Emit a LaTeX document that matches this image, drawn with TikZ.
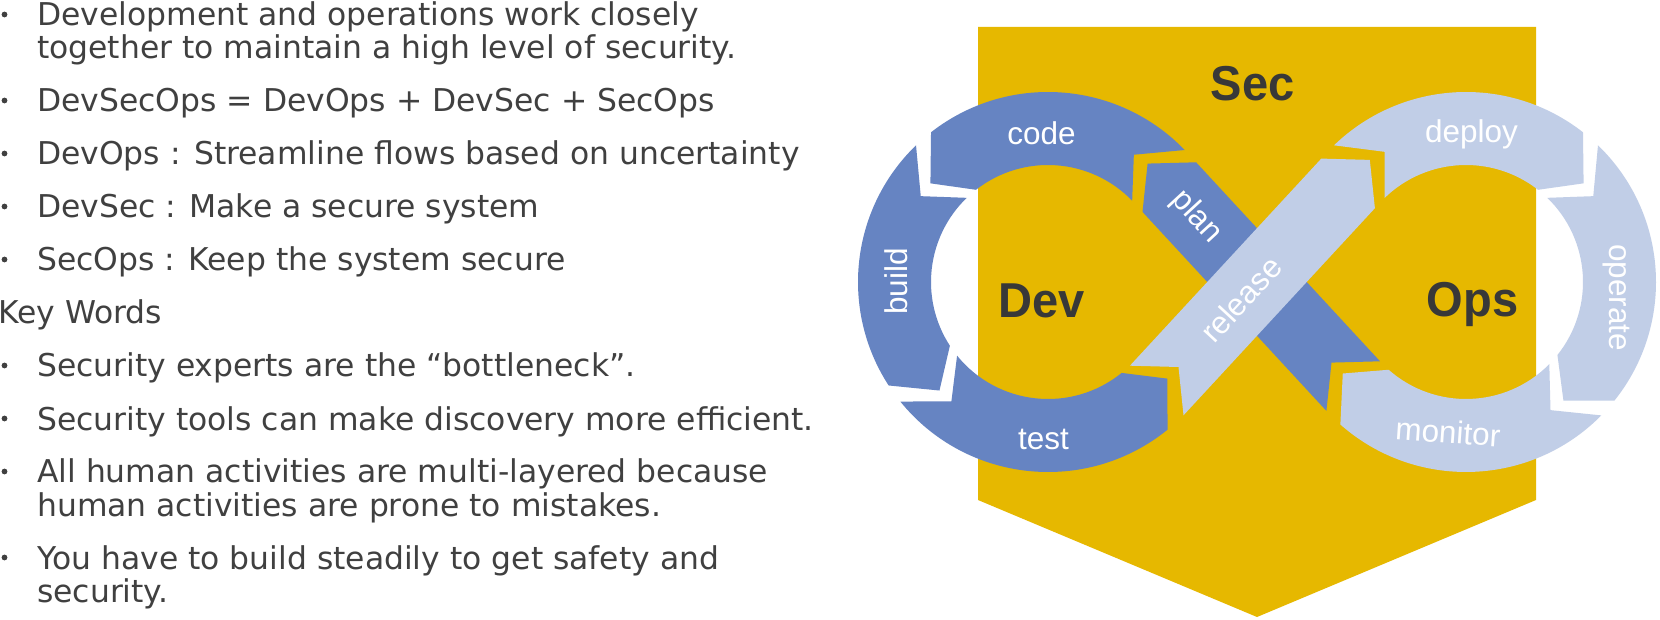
\documentclass[tikz,border=0pt]{standalone}
\usepackage{fontspec}
\newfontfamily\txtfont{DejaVu Sans}
\newfontfamily\lblfont{Liberation Sans}
\definecolor{gold}{HTML}{E6B800}
\definecolor{darkblue}{HTML}{6684C2}
\definecolor{lightblue}{HTML}{C1CEE7}
\definecolor{txtgray}{HTML}{404040}
\definecolor{biggray}{HTML}{383838}
% colour, centre, start angle, end angle, notch angle, tip angle
\newcommand{\ringseg}[6]{%
  \fill[#1, shift={#2}] (#3:190) arc[start angle=#3, end angle=#4, radius=190]
    -- (#6:153.5) -- (#4:117) arc[start angle=#4, end angle=#3, radius=117]
    -- (#5:153.5) -- cycle;}
\begin{document}
\begin{tikzpicture}[x=1pt,y=1pt,
  lbl/.style={font=\lblfont\fontsize{31.5}{36}\selectfont, text=white, inner sep=0},
  big/.style={font=\lblfont\bfseries\fontsize{49}{56}\selectfont, text=biggray, inner sep=0, anchor=base},
  body/.style={font=\txtfont\fontsize{31.4}{36}\selectfont, text=txtgray, inner sep=0, anchor=base west},
  bul/.style={circle, fill=txtgray, minimum size=5.8pt, inner sep=0}]
\useasboundingbox (0,0) rectangle (1660,619);
\fill[white] (0,0) rectangle (1660,619);

% ---------- left text ----------
\node[bul] (b1) at (4.5,604.5) {};
\node[body] (t1) at (37,593) {Development and operations work closely};
\node[body] (t2) at (37,560) {together to maintain a high level of security.};
\node[bul] (b3) at (4.5,518.5) {};
\node[body] (t3) at (37,507) {DevSecOps = DevOps + DevSec + SecOps};
\node[bul] (b4) at (4.5,465.5) {};
\node[body] (t4) at (37,454) {DevOps : Streamline flows based on uncertainty};
\node[bul] (b5) at (4.5,412.5) {};
\node[body] (t5) at (37,401) {DevSec : Make a secure system};
\node[bul] (b6) at (4.5,359.5) {};
\node[body] (t6) at (37,348) {SecOps : Keep the system secure};
\node[body] (t7) at (-2,295) {Key Words};
\node[bul] (b8) at (4.5,253.5) {};
\node[body] (t8) at (37,242) {Security experts are the “bottleneck”.};
\node[bul] (b9) at (4.5,200.5) {};
\node[body] (t9) at (37,189) {Security tools can make discovery more efficient.};
\node[bul] (b10) at (4.5,147.5) {};
\node[body] (t10) at (37,136) {All human activities are multi-layered because};
\node[body] (t11) at (37,103) {human activities are prone to mistakes.};
\node[bul] (b12) at (4.5,61.5) {};
\node[body] (t12) at (37,50) {You have to build steadily to get safety and};
\node[body] (t13) at (37,17) {security.};

% ---------- Sec shield ----------
\fill[gold] (978,592) -- (1536,592) -- (1536,119) -- (1257,2) -- (978,119) -- cycle;

% ---------- left loop (counter-clockwise) ----------
\ringseg{darkblue}{(1048,337)}{44}{128}{56}{140}      % code
\ringseg{darkblue}{(1048,337)}{134}{213}{146}{225}    % build
\ringseg{darkblue}{(1048,337)}{219}{309}{231}{321}    % test

% ---------- right loop (clockwise) ----------
\ringseg{lightblue}{(1466,337)}{134}{52}{122}{40}     % deploy
\ringseg{lightblue}{(1466,337)}{46}{-38.6}{34}{-50.6} % operate
\ringseg{lightblue}{(1466,337)}{-44.6}{-131.4}{-56.6}{-143.4} % monitor

% ---------- plan band ----------
\fill[darkblue] (1380.0,257.7) -- (1196.1,456.7) -- (1147.6,455.4) -- (1142.5,407.1)
  -- (1326.4,208.1) -- (1331.5,256.4) -- cycle;
% ---------- release band ----------
\fill[lightblue] (1183.5,203.7) -- (1374.9,410.8) -- (1369.8,459.1) -- (1321.3,460.4)
  -- (1129.9,253.3) -- (1178.5,252.0) -- cycle;

% ---------- labels ----------
\node[lbl, anchor=base] (code) at (1041.5,474) {code};
\node[lbl, rotate=90] (build) at (896.5,337.5) {build};
\node[lbl, anchor=base] (test) at (1043.5,169) {test};
\node[lbl, rotate=-47.3] (plan) at (1196.4,402.5) {plan};
\node[lbl, rotate=47.3] (release) at (1240.9,319.6) {release};
\node[lbl, anchor=base] (deploy) at (1471.5,476) {deploy};
\node[lbl, rotate=-90] (operate) at (1616,321.5) {operate};
\node[lbl, rotate=-4] (monitor) at (1448,187) {monitor};

\node[big] (sec) at (1252.5,518) {\scalebox{0.96}[1]{Sec}};
\node[big] (dev) at (1041.5,301) {\scalebox{0.96}[1]{Dev}};
\node[big] (ops) at (1472.5,302) {\scalebox{0.96}[1]{Ops}};
\end{tikzpicture}
\end{document}
